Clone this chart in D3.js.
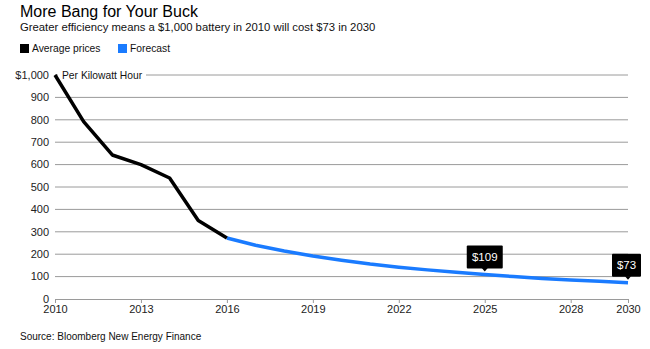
<!DOCTYPE html>
<html>
<head>
<meta charset="utf-8">
<script src="https://cdn.jsdelivr.net/npm/d3@7"></script>
<style>
  body { margin: 0; background: #fff; }
  svg { display: block; font-family: 'Liberation Sans', Arial, sans-serif; }
</style>
</head>
<body>
<svg id="chart" width="650" height="349"></svg>
<script>
// average prices and forecast, $ per kWh
const actualYears = [2010, 2011, 2012, 2013, 2014, 2015, 2016]
const actualPrices = [1000, 792, 643, 600, 540, 350, 272]
const forecastYears = [2016, 2017, 2018, 2019, 2020, 2021, 2022, 2023, 2024, 2025, 2026, 2027, 2028, 2029, 2030]
const forecastPrices = [272, 240, 214, 192, 173, 156, 142, 130, 119, 109, 100, 92, 85, 79, 73]
const xTicks = [2010, 2013, 2016, 2019, 2022, 2025, 2028, 2030]
const yTicks = [0, 100, 200, 300, 400, 500, 600, 700, 800, 900, 1000]
const callouts = [{ year: 2025, value: 109, label: '$109' }, { year: 2030, value: 73, label: '$73' }]

const svg = d3.select('#chart')
const x = d3.scaleLinear().domain([2010, 2030]).range([55, 628])
const y = d3.scaleLinear().domain([0, 1000]).range([299, 75])

// header
svg.append('text').attr('x', 20).attr('y', 17)
  .attr('font-size', 16).attr('fill', '#000').text('More Bang for Your Buck')
svg.append('text').attr('x', 20).attr('y', 30.5)
  .attr('font-size', 11.3).attr('fill', '#111')
  .text('Greater efficiency means a $1,000 battery in 2010 will cost $73 in 2030')

const legend = [{ name: 'Average prices', color: '#000', x: 20 }, { name: 'Forecast', color: '#1a7bff', x: 118 }]
legend.forEach(d => {
  svg.append('rect').attr('x', d.x).attr('y', 44).attr('width', 9).attr('height', 9)
    .attr('fill', d.color)
  svg.append('text').attr('x', d.x + 12).attr('y', 52)
    .attr('font-size', 10.3).attr('fill', '#111').text(d.name)
})

// grid
svg.append('g').selectAll('line')
  .data(yTicks.filter(v => v > 0))
  .join('line')
  .attr('x1', 55).attr('x2', 628)
  .attr('y1', d => y(d)).attr('y2', d => y(d))
  .attr('stroke', '#9a9a9a').attr('stroke-width', 1)

// white backing behind unit label on top gridline
svg.append('rect').attr('x', 58).attr('y', y(1000) - 6).attr('width', 88).attr('height', 12)
  .attr('fill', '#fff')
svg.append('text').attr('x', 62).attr('y', y(1000) + 3.5)
  .attr('font-size', 10.3).attr('fill', '#111').text('Per Kilowatt Hour')

svg.append('g').selectAll('text')
  .data(yTicks)
  .join('text')
  .attr('x', 49).attr('y', d => y(d) + 3.8)
  .attr('text-anchor', 'end').attr('font-size', 11).attr('fill', '#222')
  .text(d => d === 1000 ? '$1,000' : d)

// x axis
const xAxis = svg.append('g').attr('transform', `translate(0,${y(0)})`)
  .call(d3.axisBottom(x).tickValues(xTicks).tickFormat(d3.format('d')).tickSize(4).tickSizeOuter(0))
xAxis.select('.domain').attr('stroke', '#9a9a9a')
xAxis.selectAll('.tick line').attr('stroke', '#9a9a9a')
xAxis.selectAll('.tick text').attr('font-size', 11).attr('fill', '#222')
  .attr('font-family', "'Liberation Sans', Arial, sans-serif")
  .attr('y', 14).attr('dy', 0)

// lines
const line = d3.line().x(d => x(d[0])).y(d => y(d[1]))
svg.append('path').datum(d3.zip(forecastYears, forecastPrices))
  .attr('d', line).attr('fill', 'none').attr('stroke', '#1a7bff')
  .attr('stroke-width', 3.5).attr('stroke-linejoin', 'round')
svg.append('path').datum(d3.zip(actualYears, actualPrices))
  .attr('d', line).attr('fill', 'none').attr('stroke', '#000')
  .attr('stroke-width', 3.5).attr('stroke-linejoin', 'round')

// callouts
callouts.forEach(c => {
  const cx = x(c.year)
  const tip = y(c.value) - 3
  const g = svg.append('g')
  const w = c.label.length * 7 + 8
  const bx = Math.min(cx - w / 2, 641 - w)
  g.append('rect').attr('x', bx).attr('y', tip - 26).attr('width', w).attr('height', 23)
    .attr('rx', 1).attr('fill', '#000')
  g.append('path').attr('d', `M${cx - 3},${tip - 3.5}L${cx + 3},${tip - 3.5}L${cx},${tip}Z`).attr('fill', '#000')
  g.append('text').attr('x', bx + w / 2).attr('y', tip - 10.5)
    .attr('text-anchor', 'middle').attr('font-size', 11.5).attr('fill', '#fff').text(c.label)
})

svg.append('text').attr('x', 20).attr('y', 340)
  .attr('font-size', 10).attr('fill', '#111')
  .text('Source: Bloomberg New Energy Finance')
</script>
</body>
</html>
